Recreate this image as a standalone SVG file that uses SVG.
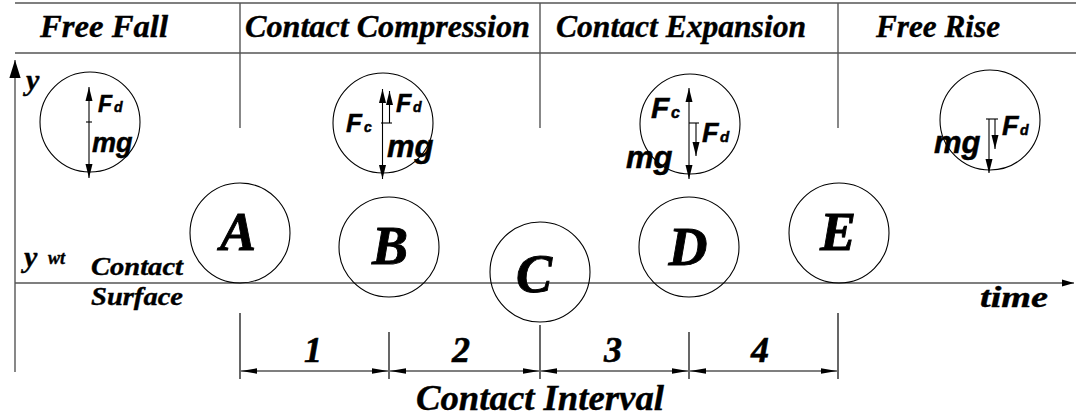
<svg xmlns="http://www.w3.org/2000/svg" width="1076" height="417" viewBox="0 0 1076 417">
<style>
.bg{fill:#fff}
.ser{font-family:"Liberation Serif","Times New Roman",serif;font-weight:bold;font-style:italic;fill:#000;stroke:#000;stroke-width:0.4}
.san{font-family:"Liberation Sans",Arial,sans-serif;font-weight:bold;font-style:italic;fill:#000;stroke:#000;stroke-width:0.5}
.hdr{font-size:32px}
.ball{fill:none;stroke:#000;stroke-width:1.1}
.grid{stroke:#555;stroke-width:1.4;fill:none}
.ln{stroke:#000;stroke-width:1.2;fill:none}
.frc{stroke:#000;stroke-width:1.1;fill:none}
.big{font-size:54px;stroke-width:0.9}
.dig{font-size:36px;stroke-width:0.6}
</style>
<defs>
<marker id="fa" markerUnits="userSpaceOnUse" markerWidth="14" markerHeight="8" refX="12" refY="3" orient="auto-start-reverse" viewBox="0 0 12 6"><path d="M0,0 L12,3 L0,6 Z" fill="#000"/></marker>
<marker id="da" markerUnits="userSpaceOnUse" markerWidth="16" markerHeight="6" refX="15" refY="2.5" orient="auto-start-reverse" viewBox="0 0 15 5"><path d="M0,0 L15,2.5 L0,5 Z" fill="#000"/></marker>
<marker id="axa" markerUnits="userSpaceOnUse" markerWidth="18" markerHeight="12" refX="16" refY="5" orient="auto" viewBox="0 0 16 10"><path d="M0,0 L16,5 L0,10 Z" fill="#000"/></marker>
<marker id="axb" markerUnits="userSpaceOnUse" markerWidth="12" markerHeight="8" refX="10" refY="3" orient="auto" viewBox="0 0 10 6"><path d="M0,0 L10,3 L0,6 Z" fill="#000"/></marker>
</defs>
<rect class="bg" x="0" y="0" width="1076" height="417"/>

<g id="header">
<line class="grid" x1="15" y1="3" x2="1076" y2="3"/>
<line class="grid" x1="15" y1="53" x2="1076" y2="53"/>
<line class="grid" x1="240" y1="3" x2="240" y2="128"/>
<line class="grid" x1="540" y1="3" x2="540" y2="128"/>
<line class="grid" x1="838" y1="3" x2="838" y2="128"/>
<text class="ser hdr" x="40" y="37" textLength="128" lengthAdjust="spacingAndGlyphs">Free Fall</text>
<text class="ser hdr" x="245" y="37" textLength="285" lengthAdjust="spacingAndGlyphs">Contact Compression</text>
<text class="ser hdr" x="556" y="37" textLength="250" lengthAdjust="spacingAndGlyphs">Contact Expansion</text>
<text class="ser hdr" x="876" y="37" textLength="124" lengthAdjust="spacingAndGlyphs">Free Rise</text>
</g>

<g id="connectors">
<line class="grid" x1="15" y1="372" x2="15" y2="60" marker-end="url(#axa)"/>
<line class="grid" x1="15" y1="283" x2="1074" y2="283" marker-end="url(#axb)"/>
<line class="ln" x1="240" y1="313" x2="240" y2="379"/>
<line class="ln" x1="389" y1="332" x2="389" y2="379"/>
<line class="ln" x1="540" y1="325" x2="540" y2="379"/>
<line class="ln" x1="689" y1="332" x2="689" y2="379"/>
<line class="ln" x1="838" y1="313" x2="838" y2="379"/>
<line class="ln" x1="241" y1="371" x2="388" y2="371" marker-start="url(#da)" marker-end="url(#da)"/>
<line class="ln" x1="390" y1="371" x2="539" y2="371" marker-start="url(#da)" marker-end="url(#da)"/>
<line class="ln" x1="541" y1="371" x2="688" y2="371" marker-start="url(#da)" marker-end="url(#da)"/>
<line class="ln" x1="690" y1="371" x2="837" y2="371" marker-start="url(#da)" marker-end="url(#da)"/>
</g>

<g id="axis-labels">
<text class="ser" x="26" y="90" font-size="30">y</text>
<text class="ser" x="24" y="267" font-size="30">y</text>
<text class="ser" x="48" y="264" font-size="18" stroke-width="0.2">wt</text>
<text class="ser" x="91" y="275" font-size="26" textLength="92" lengthAdjust="spacingAndGlyphs">Contact</text>
<text class="ser" x="91" y="305" font-size="26" textLength="92" lengthAdjust="spacingAndGlyphs">Surface</text>
<text class="ser" x="980" y="307" font-size="30" textLength="68" lengthAdjust="spacingAndGlyphs">time</text>
</g>

<g id="ball-A"><circle class="ball" cx="240" cy="233" r="50"/><text class="ser big" x="238" y="250" text-anchor="middle">A</text></g>
<g id="ball-B"><circle class="ball" cx="389" cy="247" r="50"/><text class="ser big" x="390" y="264" text-anchor="middle">B</text></g>
<g id="ball-C"><circle class="ball" cx="540" cy="272" r="50"/><text class="ser big" x="534" y="292" text-anchor="middle">C</text></g>
<g id="ball-D"><circle class="ball" cx="689" cy="247" r="50"/><text class="ser big" x="688" y="265" text-anchor="middle">D</text></g>
<g id="ball-E"><circle class="ball" cx="839" cy="233" r="50"/><text class="ser big" x="838" y="250" text-anchor="middle">E</text></g>

<g id="force-free-fall">
<circle class="ball" cx="90" cy="122" r="50"/>
<line class="frc" x1="89" y1="122" x2="89" y2="87" marker-end="url(#fa)"/>
<line class="frc" x1="89" y1="122" x2="89" y2="178" marker-end="url(#fa)"/>
<line class="frc" x1="86" y1="122" x2="92" y2="122"/>
<text class="san" x="98" y="112" font-size="23">F</text>
<text class="san" x="114" y="112" font-size="14">d</text>
<text class="san" x="92" y="152" font-size="27">mg</text>
</g>

<g id="force-compression">
<circle class="ball" cx="383" cy="123" r="50"/>
<line class="frc" x1="382.5" y1="123" x2="382.5" y2="89" marker-end="url(#fa)"/>
<line class="frc" x1="389.5" y1="123" x2="389.5" y2="91" marker-end="url(#fa)"/>
<line class="frc" x1="382.5" y1="123" x2="382.5" y2="179" marker-end="url(#fa)"/>
<line class="frc" x1="381" y1="123" x2="392" y2="123"/>
<text class="san" x="346" y="132" font-size="26">F</text>
<text class="san" x="364" y="132" font-size="14">c</text>
<text class="san" x="396" y="112" font-size="25">F</text>
<text class="san" x="413" y="112" font-size="14">d</text>
<text class="san" x="387" y="157" font-size="31">mg</text>
</g>

<g id="force-expansion">
<circle class="ball" cx="690" cy="124" r="50"/>
<line class="frc" x1="689" y1="123" x2="689" y2="88" marker-end="url(#fa)"/>
<line class="frc" x1="689" y1="123" x2="689" y2="179" marker-end="url(#fa)"/>
<line class="frc" x1="696" y1="123" x2="696" y2="156" marker-end="url(#fa)"/>
<line class="frc" x1="689" y1="123" x2="699" y2="123"/>
<text class="san" x="651" y="118" font-size="30">F</text>
<text class="san" x="671" y="118" font-size="16">c</text>
<text class="san" x="702" y="142" font-size="27">F</text>
<text class="san" x="720" y="142" font-size="15">d</text>
<text class="san" x="626" y="168" font-size="31">mg</text>
</g>

<g id="force-free-rise">
<circle class="ball" cx="990" cy="120" r="50"/>
<line class="frc" x1="989" y1="119" x2="989" y2="173" marker-end="url(#fa)"/>
<line class="frc" x1="995" y1="119" x2="995" y2="149" marker-end="url(#fa)"/>
<line class="frc" x1="986" y1="119" x2="998" y2="119"/>
<text class="san" x="934" y="153" font-size="31">mg</text>
<text class="san" x="1002" y="135" font-size="27">F</text>
<text class="san" x="1020" y="135" font-size="14">d</text>
</g>

<g id="interval-labels">
<text class="ser dig" x="313" y="362" text-anchor="middle">1</text>
<text class="ser dig" x="461" y="362" text-anchor="middle">2</text>
<text class="ser dig" x="613" y="362" text-anchor="middle">3</text>
<text class="ser dig" x="760" y="362" text-anchor="middle">4</text>
<text class="ser" x="540" y="410" font-size="36" text-anchor="middle" textLength="248" lengthAdjust="spacingAndGlyphs">Contact Interval</text>
</g>
</svg>
